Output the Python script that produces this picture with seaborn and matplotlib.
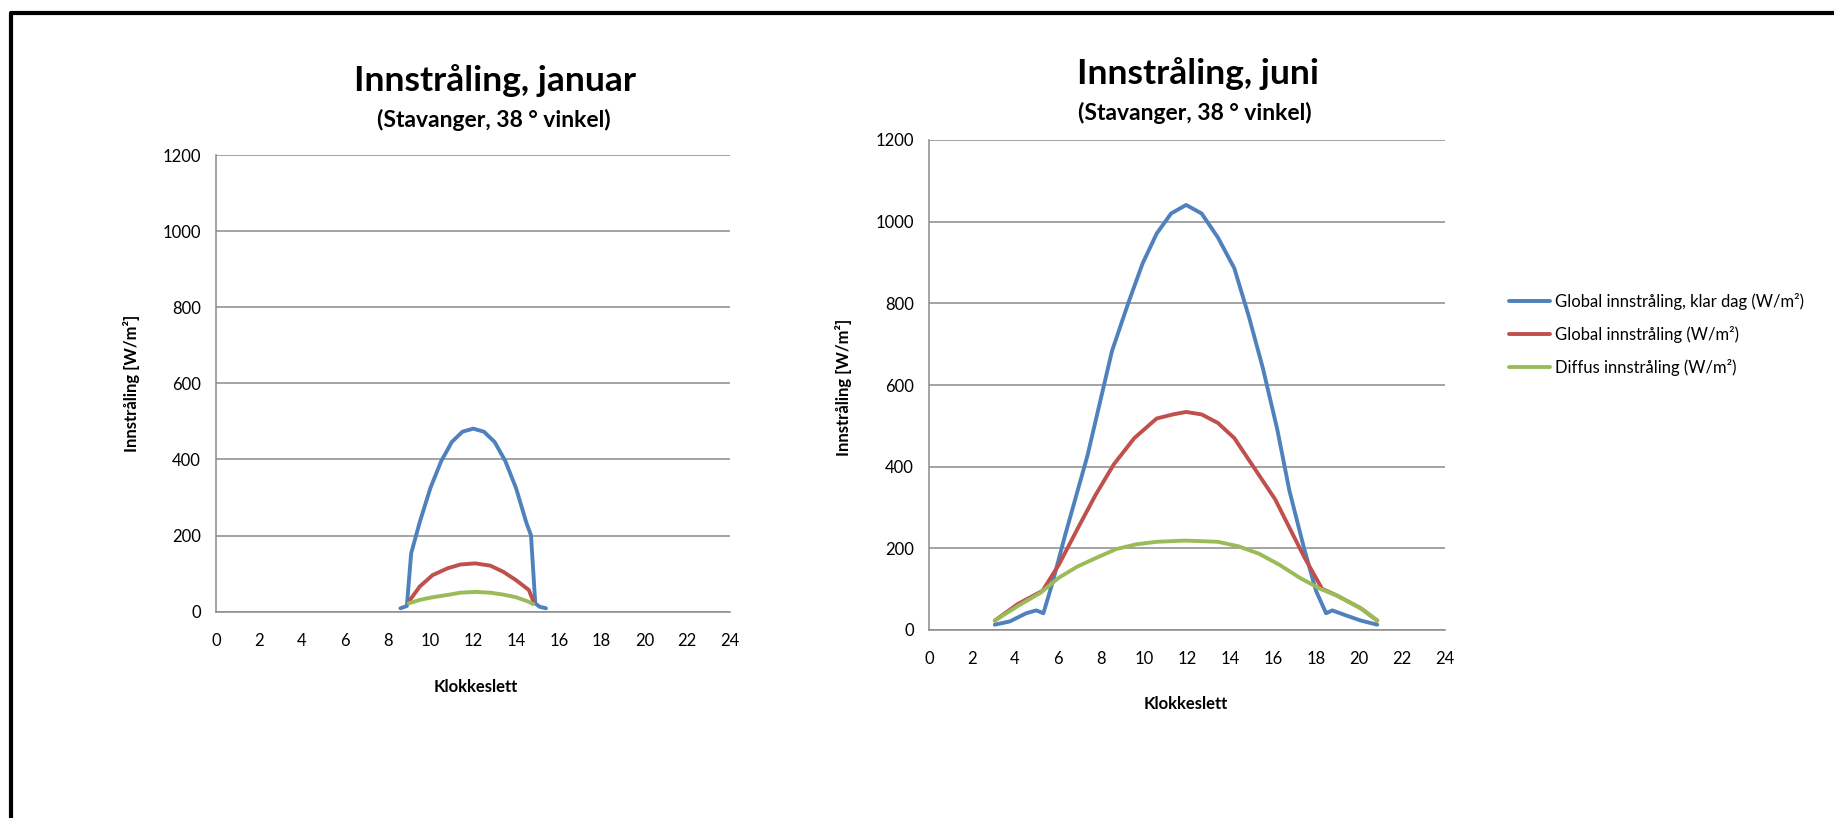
import pandas as pd
import matplotlib.pyplot as plt
import seaborn as sns
from matplotlib.lines import Line2D

sns.set_style("white")
plt.rcParams['font.family'] = ['Lato', 'DejaVu Sans']
plt.rcParams['text.color'] = 'black'

# Januar
jan_blue_x = [8.6, 8.9, 9.1, 9.5, 10.0, 10.5, 11.0, 11.5, 12.0, 12.5, 13.0, 13.5, 14.0, 14.5, 14.7, 14.9, 15.1, 15.4]
jan_blue_y = [9, 15, 153, 235, 325, 395, 446, 473, 481, 473, 446, 396, 325, 231, 201, 22, 13, 9]
jan_red_x = [9.05, 9.5, 10.1, 10.8, 11.4, 12.1, 12.8, 13.4, 14.0, 14.6, 14.8]
jan_red_y = [31, 66, 96, 114, 124, 127, 121, 105, 83, 57, 29]
jan_green_x = [9.0, 9.5, 10.1, 10.8, 11.4, 12.1, 12.8, 13.4, 14.0, 14.6, 14.8]
jan_green_y = [22, 31, 38, 44, 50, 52, 50, 45, 38, 26, 20]

# Juni
jun_blue_x = [3.06, 3.76, 4.52, 4.99, 5.32, 5.75, 6.32, 6.8, 7.37, 7.94, 8.51, 9.27, 9.93, 10.59, 11.26,
              11.96, 12.68, 13.44, 14.2, 14.87, 15.53, 16.2, 16.76, 17.43, 18.0, 18.47, 18.76, 19.33, 20.09, 20.85]
jun_blue_y = [13, 21, 41, 48, 41, 117, 230, 320, 427, 555, 683, 801, 897, 971, 1020,
              1041, 1020, 961, 886, 769, 641, 491, 342, 203, 96, 41, 48, 37, 23, 13]
jun_red_x = [3.06, 4.14, 5.28, 6.04, 6.99, 7.75, 8.6, 9.55, 10.59, 11.35, 11.96, 12.68, 13.44, 14.2,
             15.15, 16.1, 16.76, 17.43, 18.28, 18.95, 20.09, 20.85]
jun_red_y = [23, 64, 96, 160, 256, 331, 406, 470, 518, 528, 534, 528, 507, 470,
             395, 320, 251, 181, 101, 85, 53, 23]
jun_green_x = [3.06, 4.14, 5.18, 6.04, 6.89, 7.75, 8.7, 9.65, 10.59, 11.92, 13.44, 14.39, 15.34, 16.29,
               17.24, 18.19, 18.95, 20.09, 20.85]
jun_green_y = [23, 59, 91, 128, 155, 176, 198, 210, 216, 219, 216, 205, 187, 160,
               128, 101, 85, 53, 23]

series = ["Global innstråling, klar dag (W/m²)", "Global innstråling (W/m²)", "Diffus innstråling (W/m²)"]
colors = ["#4F81BD", "#C0504D", "#9BBB59"]


def make_df(xs, ys):
    parts = []
    for name, x, y in zip(series, xs, ys):
        parts.append(pd.DataFrame({"Klokkeslett": x, "Innstråling": y, "Serie": name}))
    return pd.concat(parts, ignore_index=True)


df_jan = make_df([jan_blue_x, jan_red_x, jan_green_x], [jan_blue_y, jan_red_y, jan_green_y])
df_jun = make_df([jun_blue_x, jun_red_x, jun_green_x], [jun_blue_y, jun_red_y, jun_green_y])

W, H = 1834, 818
fig = plt.figure(figsize=(W / 100, H / 100), dpi=100)
ax1 = fig.add_axes([216.4 / W, 1 - 611.7 / H, (730 - 216.4) / W, (611.7 - 155) / H])
ax2 = fig.add_axes([929 / W, 1 - 630 / H, (1445 - 929) / W, (630 - 140) / H])

grid_col = "#8a8a8a"
for ax, df in [(ax1, df_jan), (ax2, df_jun)]:
    sns.lineplot(data=df, x="Klokkeslett", y="Innstråling", hue="Serie", hue_order=series,
                 palette=colors, linewidth=2.8, sort=False, estimator=None, ax=ax, legend=False)
    ax.set_xlim(0, 24)
    ax.set_ylim(0, 1200)
    ax.set_xticks(range(0, 25, 2))
    ax.set_yticks(range(0, 1201, 200))
    ax.grid(axis="y", color=grid_col, linewidth=1.1)
    ax.grid(axis="x", visible=False)
    for s in ["top", "right"]:
        ax.spines[s].set_visible(False)
    ax.spines["left"].set_color(grid_col)
    ax.spines["bottom"].set_color(grid_col)
    ax.spines["left"].set_linewidth(1.1)
    ax.spines["bottom"].set_linewidth(1.1)
    ax.tick_params(axis="both", length=0, labelsize=12, colors="black")
    ax.tick_params(axis="x", pad=15)
    ax.tick_params(axis="y", pad=11)
    ax.set_xlabel("Klokkeslett", fontsize=12, fontweight="bold", color="black")
    ax.set_ylabel("Innstråling [W/m²]", fontsize=12, fontweight="bold", color="black")

ax1.xaxis.set_label_coords((476 - 216.4) / (730 - 216.4), -(679 - 611.7) / (611.7 - 155))
ax1.yaxis.set_label_coords(-(216.4 - 140) / (730 - 216.4), (611.7 - 383) / (611.7 - 155))
ax2.xaxis.set_label_coords((1186 - 929) / (1445 - 929), -(696 - 630) / (630 - 140))
ax2.yaxis.set_label_coords(-(929 - 852) / (1445 - 929), (630 - 387) / (630 - 140))

fig.text(495 / W, 1 - 81 / H, "Innstråling, januar", ha="center", va="center", fontsize=25.5, fontweight="bold")
fig.text(494 / W, 1 - 120 / H, "(Stavanger, 38 ° vinkel)", ha="center", va="center", fontsize=16.5, fontweight="bold")
fig.text(1198 / W, 1 - 74 / H, "Innstråling, juni", ha="center", va="center", fontsize=25.5, fontweight="bold")
fig.text(1195 / W, 1 - 113 / H, "(Stavanger, 38 ° vinkel)", ha="center", va="center", fontsize=16.5, fontweight="bold")

handles = [Line2D([0], [0], color=c, linewidth=2.8) for c in colors]
fig.legend(handles, series, loc="upper left", bbox_to_anchor=(1509 / W, 1 - 293 / H),
           frameon=False, fontsize=12, handlelength=2.45, handletextpad=0.3,
           labelspacing=0.95, borderpad=0, borderaxespad=0)

# ramme oppe og til venstre
fig.add_artist(Line2D([11 / W, 11 / W, 1.01], [-0.01, 1 - 13 / H, 1 - 13 / H],
                      transform=fig.transFigure, color="black", linewidth=3))

fig.savefig("out.png", dpi=100)
